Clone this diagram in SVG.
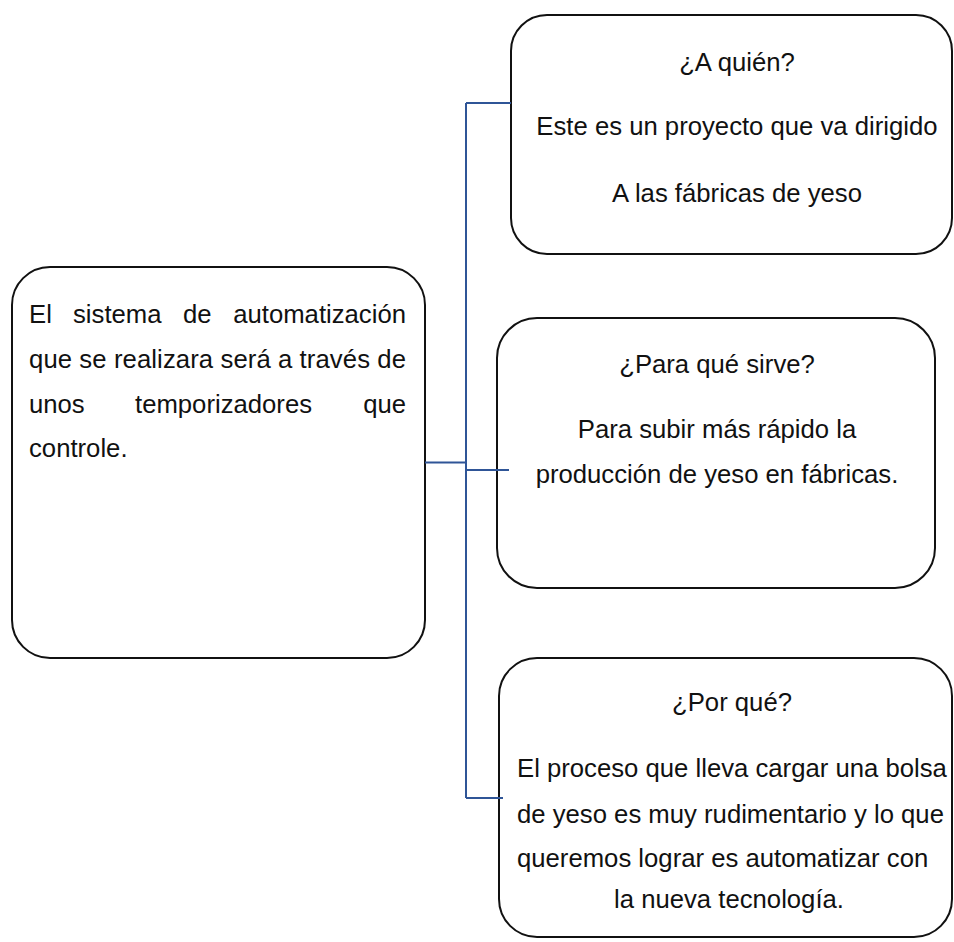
<svg xmlns="http://www.w3.org/2000/svg" width="954" height="942" viewBox="0 0 954 942">
<style>
  .box { fill: #ffffff; stroke: #111111; stroke-width: 2; }
  .t { font-family: "Liberation Sans", Arial, sans-serif; font-size: 25.7px; fill: #111111; }
  .c { text-anchor: middle; }
  .e { text-anchor: end; }
  .conn { fill: none; stroke: #2f5597; stroke-width: 2; }
</style>
<rect x="0" y="0" width="954" height="942" fill="#ffffff"/>
<g id="node-main">
  <rect class="box" x="12" y="267" width="413" height="391" rx="38" ry="38"/>
  <text class="t" x="29" y="323">El</text>
  <text class="t" x="73" y="323">sistema</text>
  <text class="t" x="183" y="323">de</text>
  <text class="t e" x="406" y="323">automatización</text>
  <text class="t" x="29" y="368" textLength="377" lengthAdjust="spacing">que se realizara será a través de</text>
  <text class="t" x="29" y="413">unos</text>
  <text class="t" x="135" y="413">temporizadores</text>
  <text class="t e" x="406" y="413">que</text>
  <text class="t" x="29" y="457">controle.</text>
</g>
<g id="node-quien">
  <rect class="box" x="511" y="15" width="441" height="239" rx="36" ry="36"/>
  <text class="t c" x="737" y="71">¿A quién?</text>
  <text class="t c" x="737" y="135">Este es un proyecto que va dirigido</text>
  <text class="t c" x="737" y="202">A las fábricas de yeso</text>
</g>
<g id="node-para">
  <rect class="box" x="497" y="318" width="438" height="270" rx="40" ry="40"/>
  <text class="t c" x="717" y="373">¿Para qué sirve?</text>
  <text class="t c" x="717" y="438">Para subir más rápido la</text>
  <text class="t c" x="717" y="483">producción de yeso en fábricas.</text>
</g>
<g id="node-porque">
  <rect class="box" x="499" y="658" width="453" height="279" rx="38" ry="38"/>
  <text class="t c" x="732" y="711">¿Por qué?</text>
  <text class="t" x="517" y="777">El proceso que lleva cargar una bolsa</text>
  <text class="t" x="517" y="823">de yeso es muy rudimentario y lo que</text>
  <text class="t" x="517" y="867">queremos lograr es automatizar con</text>
  <text class="t c" x="729" y="908">la nueva tecnología.</text>
</g>
<g id="connectors">
  <line class="conn" x1="466" y1="103" x2="466" y2="798"/>
  <line class="conn" x1="466" y1="103" x2="511" y2="103"/>
  <line class="conn" x1="425" y1="462.5" x2="466" y2="462.5"/>
  <line class="conn" x1="466" y1="470" x2="509" y2="470"/>
  <line class="conn" x1="466" y1="798" x2="503" y2="798"/>
</g>
</svg>
